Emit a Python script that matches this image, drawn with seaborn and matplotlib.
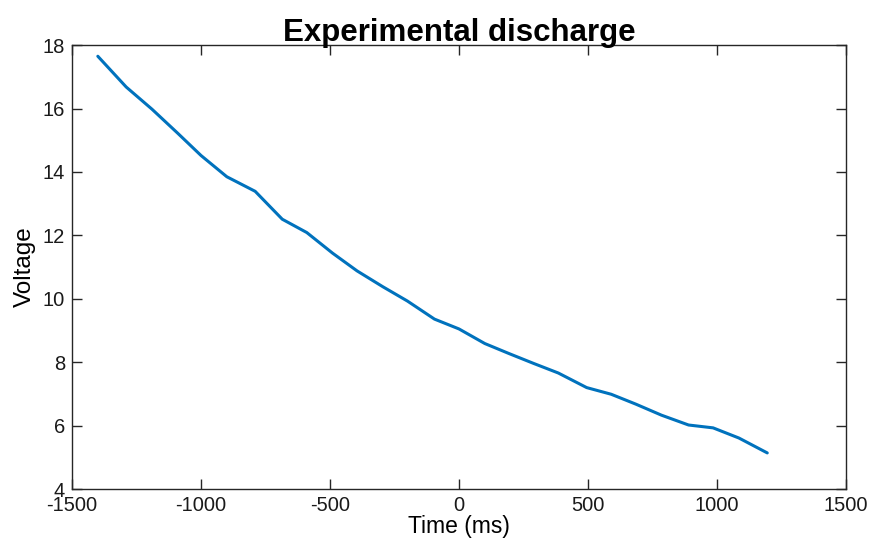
import matplotlib
matplotlib.use("Agg")
import matplotlib.pyplot as plt
import seaborn as sns
import pandas as pd

time_ms = [-1400, -1290, -1190, -1090, -1000, -900, -790, -685, -590, -490,
           -395, -295, -200, -95, 0, 100, 195, 290, 385, 495,
           590, 685, 785, 890, 985, 1085, 1195]
voltage = [17.65, 16.68, 15.98, 15.22, 14.52, 13.85, 13.39, 12.51, 12.09, 11.44,
           10.88, 10.38, 9.93, 9.36, 9.05, 8.59, 8.27, 7.96, 7.66, 7.20,
           6.99, 6.68, 6.33, 6.02, 5.93, 5.61, 5.14]
x_ticks = [-1500, -1000, -500, 0, 500, 1000, 1500]
y_ticks = [4, 6, 8, 10, 12, 14, 16, 18]

df = pd.DataFrame({"Time (ms)": time_ms, "Voltage": voltage})

sns.set_theme(style="ticks")
plt.rcParams["font.family"] = ["Liberation Sans", "DejaVu Sans"]
plt.rcParams["axes.unicode_minus"] = False
plt.rcParams["text.color"] = "black"
plt.rcParams["axes.labelcolor"] = "black"

fig = plt.figure(figsize=(8.73, 5.44), dpi=100)
ax = fig.add_axes([0.0825, 0.101, 0.8865, 0.816])
sns.lineplot(data=df, x="Time (ms)", y="Voltage", ax=ax, color="#0072BD",
             linewidth=2.2, sort=False)

ax.set_xlim(-1500, 1500)
ax.set_ylim(4, 18)
ax.set_xticks(x_ticks)
ax.set_yticks(y_ticks)
ax.tick_params(direction="in", length=7, width=1, colors="#262626",
               labelcolor="#1a1a1a", labelsize=14.5, top=True, right=True, pad=5)
for s in ax.spines.values():
    s.set_visible(True)
    s.set_color("#262626")
    s.set_linewidth(1)
ax.set_xlabel("Time (ms)", fontsize=16.5, labelpad=0)
ax.set_ylabel("Voltage", fontsize=17.5, labelpad=5)
ax.set_title("Experimental discharge", fontsize=22.5, fontweight="bold", pad=3,
             color="black")

fig.savefig("out.png", dpi=100)
